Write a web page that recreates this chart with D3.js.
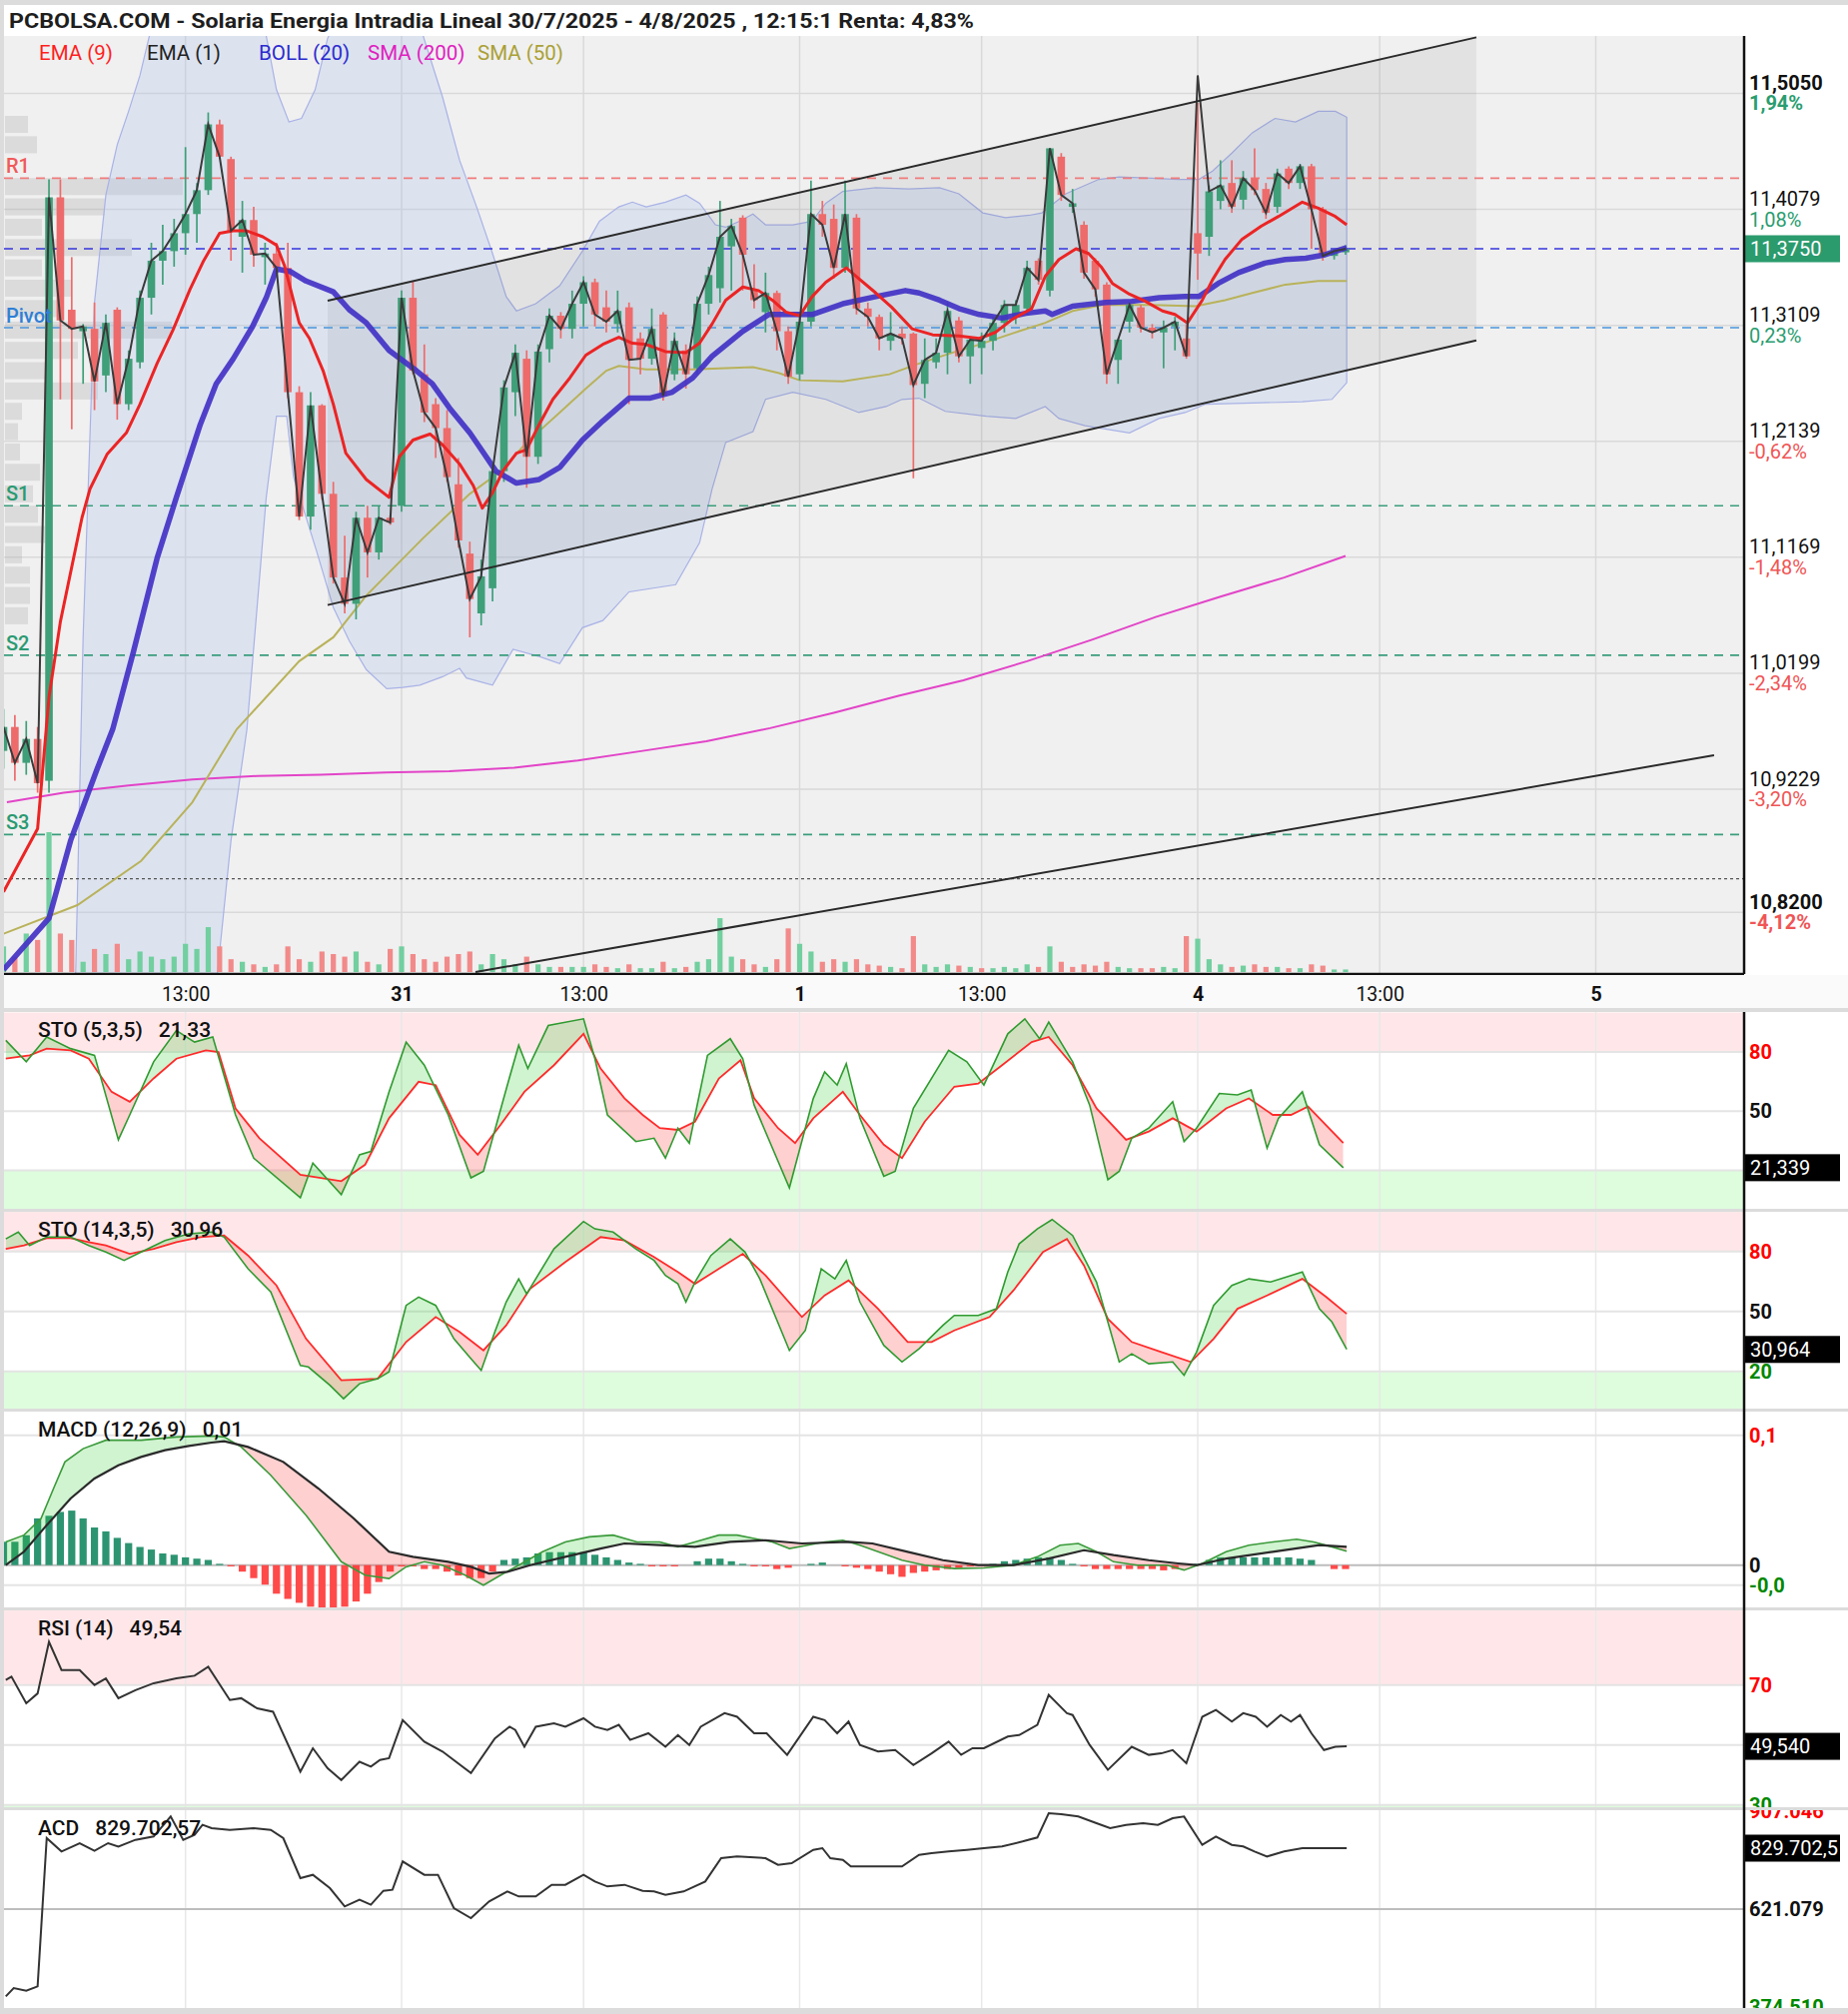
<!DOCTYPE html>
<html><head><meta charset="utf-8">
<script src="https://cdn.jsdelivr.net/npm/d3@7/dist/d3.min.js"></script>
<style>
html,body{margin:0;padding:0;background:#fff;}
svg{display:block;}
text{font-family:Roboto,"Noto Sans",sans-serif;}
</style></head><body>
<svg id="chart" width="1850" height="2016"></svg>
<script>
// ---------------- DATA ----------------
const TITLE = "PCBOLSA.COM - Solaria Energia Intradia Lineal 30/7/2025 - 4/8/2025 , 12:15:1 Renta: 4,83%";
const LEGEND_LABELS = ["EMA (9)","EMA (1)","BOLL (20)","SMA (200)","SMA (50)"];
const LEGEND_COLORS = ["#ff1e1e","#222222","#2b2bd0","#e020c0","#aaa035"];

const XTICK_SLOTS = [16,35,51,70,86,105,121,140];
const XTICK_LABELS = ["13:00","31","13:00","1","13:00","4","13:00","5"];
const XTICK_BOLD = [false,true,false,true,false,true,false,true];

const PRICE_TICKS = [11.5050,11.4079,11.3109,11.2139,11.1169,11.0199,10.9229,10.8200];
const PRICE_TICK_LABELS = ["11,5050","11,4079","11,3109","11,2139","11,1169","11,0199","10,9229","10,8200"];
const PRICE_TICK_PCT = ["1,94%","1,08%","0,23%","-0,62%","-1,48%","-2,34%","-3,20%","-4,12%"];
const PRICE_TICK_BOLD = [true,false,false,false,false,false,false,true];
const LAST_PRICE = 11.375, LAST_PRICE_LABEL = "11,3750";

const OPEN = [10.955,10.975,10.945,10.965,10.93,11.418,11.324,11.306,11.308,11.269,
11.324,11.245,11.280,11.334,11.365,11.373,11.388,11.404,11.424,11.479,
11.450,11.385,11.399,11.368,11.371,11.359,11.255,11.151,11.244,11.170,
11.100,11.078,11.150,11.121,11.150,11.160,11.334,11.270,11.245,11.225,
11.178,11.120,11.070,11.091,11.189,11.255,11.283,11.201,11.291,11.319,
11.308,11.329,11.347,11.326,11.312,11.326,11.300,11.283,11.320,11.270,
11.290,11.275,11.329,11.342,11.377,11.401,11.340,11.322,11.338,11.306,
11.270,11.314,11.404,11.400,11.359,11.401,11.325,11.318,11.298,11.304,
11.304,11.262,11.280,11.288,11.315,11.285,11.292,11.298,11.313,11.318,
11.325,11.365,11.340,11.452,11.410,11.395,11.365,11.345,11.282,11.314,
11.326,11.309,11.305,11.310,11.300,11.388,11.385,11.415,11.430,11.416,
11.434,11.425,11.410,11.442,11.430,11.444,11.408,11.369,11.372];
const HIGH = [10.99,10.985,10.98,10.975,11.433,11.433,11.368,11.312,11.330,11.320,
11.326,11.290,11.340,11.380,11.395,11.400,11.460,11.430,11.489,11.483,
11.452,11.415,11.410,11.380,11.380,11.380,11.260,11.255,11.245,11.180,
11.135,11.155,11.160,11.160,11.152,11.340,11.348,11.295,11.250,11.240,
11.200,11.130,11.115,11.195,11.265,11.295,11.290,11.295,11.325,11.322,
11.340,11.352,11.350,11.340,11.340,11.330,11.305,11.325,11.322,11.305,
11.295,11.335,11.360,11.415,11.400,11.403,11.362,11.355,11.340,11.310,
11.320,11.432,11.415,11.412,11.432,11.404,11.330,11.320,11.322,11.310,
11.305,11.300,11.300,11.330,11.318,11.300,11.305,11.318,11.332,11.332,
11.365,11.367,11.459,11.455,11.425,11.398,11.367,11.347,11.300,11.330,
11.328,11.312,11.315,11.318,11.312,11.497,11.428,11.449,11.449,11.440,
11.459,11.430,11.442,11.444,11.446,11.446,11.410,11.375,11.378];
const LOW = [10.94,10.93,10.935,10.92,10.92,11.249,11.224,11.262,11.240,11.255,
11.232,11.240,11.275,11.320,11.345,11.360,11.370,11.380,11.420,11.450,
11.365,11.355,11.360,11.345,11.355,11.250,11.148,11.140,11.165,11.095,
11.070,11.065,11.100,11.115,11.144,11.155,11.270,11.230,11.200,11.180,
11.125,11.050,11.060,11.080,11.180,11.235,11.175,11.195,11.280,11.300,
11.300,11.310,11.310,11.305,11.305,11.245,11.270,11.278,11.248,11.265,
11.258,11.270,11.320,11.330,11.340,11.340,11.325,11.305,11.290,11.262,
11.265,11.310,11.385,11.350,11.355,11.320,11.310,11.290,11.290,11.295,
11.183,11.250,11.275,11.270,11.280,11.262,11.270,11.290,11.305,11.312,
11.320,11.345,11.335,11.415,11.405,11.350,11.335,11.262,11.262,11.305,
11.305,11.300,11.275,11.290,11.283,11.349,11.369,11.408,11.405,11.408,
11.420,11.400,11.405,11.425,11.425,11.375,11.365,11.366,11.370];
const CLOSE = [10.975,10.945,10.965,10.928,11.418,11.315,11.308,11.310,11.264,11.313,
11.245,11.283,11.334,11.365,11.373,11.388,11.404,11.424,11.479,11.452,
11.390,11.399,11.370,11.371,11.359,11.255,11.151,11.244,11.170,11.100,
11.078,11.150,11.121,11.150,11.146,11.334,11.273,11.238,11.225,11.184,
11.131,11.082,11.101,11.189,11.259,11.288,11.201,11.289,11.319,11.308,
11.329,11.347,11.320,11.314,11.323,11.282,11.283,11.308,11.252,11.298,
11.270,11.329,11.353,11.385,11.394,11.370,11.332,11.338,11.306,11.268,
11.314,11.404,11.395,11.359,11.404,11.325,11.318,11.300,11.304,11.300,
11.261,11.282,11.288,11.323,11.285,11.299,11.298,11.313,11.328,11.328,
11.359,11.349,11.459,11.420,11.413,11.355,11.341,11.270,11.299,11.328,
11.309,11.305,11.309,11.314,11.285,11.371,11.423,11.428,11.410,11.434,
11.424,11.405,11.438,11.430,11.444,11.408,11.369,11.373,11.375];
const VOLUME = [20,12,30,25,109,30,25,8,18,14,
22,10,16,12,10,12,22,18,35,20,
10,8,6,4,6,20,10,8,16,14,
12,16,8,6,18,20,14,10,8,12,
14,16,6,14,10,6,12,6,4,4,
4,4,6,4,3,6,3,3,8,3,
4,8,10,42,12,10,6,4,10,34,
22,16,8,10,8,10,6,5,4,3,
28,6,4,6,5,4,3,3,4,3,
6,4,20,8,4,6,5,8,4,3,
3,3,4,3,28,26,10,6,4,5,
6,4,4,3,3,6,5,2,2];
const EMA1_OVERRIDE_SLOT = [105];
const EMA1_OVERRIDE_VALUE = [11.52];

const EMA9 = [[0,10.837],[3,10.89],[4,11.0],[5,11.063],[6.9,11.150],[7.6,11.174],[9.1,11.203],[10.8,11.221],[12,11.245],[13.5,11.279],[14.9,11.307],[16.4,11.341],[17.6,11.365],[19,11.388],[20.2,11.390],[21.4,11.390],[22.8,11.385],[24,11.378],[24.7,11.361],[26,11.313],[26.9,11.300],[28.1,11.273],[29,11.245],[30.1,11.204],[31.9,11.182],[33.9,11.167],[34.8,11.201],[36,11.215],[37.5,11.220],[38.6,11.211],[40.1,11.195],[41.3,11.177],[42.1,11.158],[43,11.171],[43.9,11.189],[45.1,11.204],[46,11.207],[47.1,11.228],[48.3,11.249],[49.8,11.267],[51.2,11.286],[52.7,11.295],[54.1,11.301],[55.3,11.296],[56.5,11.295],[58.2,11.289],[60,11.288],[61.2,11.296],[62.3,11.312],[63.5,11.332],[65,11.343],[66.4,11.340],[67.6,11.332],[68.8,11.322],[70,11.319],[71.1,11.335],[72.3,11.347],[74.1,11.359],[75.2,11.350],[76.7,11.338],[78.1,11.326],[79.9,11.308],[81.7,11.303],[84,11.302],[85.8,11.300],[87.2,11.305],[88.7,11.316],[90.4,11.325],[91.6,11.352],[92.8,11.366],[94.3,11.375],[95.4,11.371],[96.5,11.360],[97.5,11.346],[99,11.337],[100.4,11.331],[101.9,11.323],[103,11.320],[104.1,11.313],[105.4,11.332],[106.3,11.349],[107.4,11.366],[108.9,11.383],[110.6,11.394],[112.1,11.402],[114.2,11.414],[115.6,11.409],[117.1,11.402],[118.1,11.395]];
const BOLL_MID = [[0,10.772],[4,10.815],[5.9,10.880],[8.2,10.939],[9.6,10.973],[11.4,11.037],[13.5,11.116],[15.2,11.167],[17.3,11.228],[18.7,11.262],[20.2,11.283],[21.9,11.310],[23.1,11.334],[24,11.358],[25.2,11.356],[26.6,11.348],[29,11.339],[30.4,11.324],[31.9,11.313],[33.9,11.290],[36.3,11.273],[37.7,11.262],[39.2,11.242],[41,11.221],[41.8,11.210],[43.3,11.189],[45.1,11.179],[47.1,11.182],[48.9,11.192],[50.9,11.215],[52.7,11.231],[55,11.250],[56.8,11.250],[58.8,11.255],[60.6,11.267],[62.3,11.285],[65,11.306],[67.3,11.320],[69.4,11.320],[71.1,11.320],[73.8,11.329],[76.7,11.335],[79.3,11.340],[80.5,11.338],[82.3,11.332],[84,11.325],[85.8,11.320],[87.8,11.317],[89.9,11.321],[91.6,11.323],[92.2,11.320],[94,11.327],[96.9,11.330],[99.2,11.331],[101.6,11.334],[103.9,11.335],[105.1,11.335],[106.8,11.346],[108.6,11.355],[110.9,11.363],[112.7,11.366],[114.5,11.367],[116.2,11.370],[118.1,11.376]];
const BOLL_UP = [[0,10.40],[5,10.45],[6,10.62],[7,11.05],[8,11.33],[9,11.42],[10,11.462],[11,11.49],[12,11.52],[13,11.56],[16,11.62],[20,11.63],[22,11.59],[23.1,11.553],[24,11.508],[25.1,11.481],[26.2,11.484],[27.4,11.508],[28.5,11.551],[31,11.60],[34,11.61],[36.9,11.553],[38.6,11.502],[40.1,11.449],[41.6,11.410],[43,11.371],[44.2,11.335],[45.1,11.323],[46.8,11.329],[48.9,11.344],[50.9,11.373],[52.4,11.398],[54.1,11.410],[55.3,11.414],[56.5,11.410],[58.2,11.414],[60,11.420],[61.2,11.413],[62.6,11.395],[63.5,11.393],[64.7,11.398],[65.9,11.404],[67,11.395],[69.4,11.395],[71.1,11.398],[72.3,11.413],[73.8,11.423],[76.7,11.426],[79.6,11.425],[82.3,11.426],[84,11.421],[86.1,11.405],[88.1,11.401],[90.2,11.403],[91.3,11.405],[93.4,11.421],[96.3,11.433],[98.1,11.435],[101,11.434],[103.3,11.433],[105.1,11.433],[106.3,11.440],[108,11.455],[109.8,11.472],[111.8,11.484],[113.6,11.481],[115.6,11.490],[117.1,11.490],[118.1,11.485]];
const BOLL_LOW = [[0,10.40],[17,10.55],[18.5,10.74],[20,10.88],[21.4,10.973],[23.1,11.167],[24,11.235],[24.9,11.235],[25.5,11.184],[27.5,11.123],[29,11.075],[30.4,11.047],[31.9,11.023],[33.7,11.007],[35.1,11.008],[36.6,11.010],[38.6,11.017],[40.1,11.024],[40.7,11.016],[43,11.010],[44.8,11.040],[47.1,11.034],[48.9,11.028],[50.9,11.058],[52.7,11.064],[55,11.088],[59.1,11.094],[61.2,11.129],[62.3,11.174],[63.5,11.213],[65.9,11.222],[67,11.249],[69.4,11.255],[72.3,11.249],[75.2,11.238],[77.6,11.243],[79,11.249],[80.5,11.250],[82.8,11.239],[86.4,11.235],[89,11.233],[91.6,11.243],[92.8,11.233],[95.1,11.227],[99,11.221],[101.6,11.233],[103.9,11.238],[105.7,11.245],[109.8,11.246],[114.2,11.247],[116.8,11.249],[118.1,11.263]];
const SMA50 = [[0,10.802],[6.5,10.826],[12.1,10.863],[16.6,10.912],[20.5,10.973],[26,11.030],[29,11.050],[31.9,11.085],[36.9,11.133],[41,11.170],[43.6,11.188],[46,11.213],[48.9,11.238],[51.2,11.258],[53,11.273],[54.1,11.277],[56.5,11.274],[60.6,11.274],[65.9,11.276],[68.2,11.271],[70,11.265],[73.8,11.264],[77.9,11.270],[80.5,11.279],[83.4,11.288],[85.2,11.293],[89.3,11.306],[91.6,11.313],[94,11.323],[96.6,11.328],[101,11.328],[104.8,11.327],[107.4,11.332],[109.8,11.338],[112.7,11.345],[115.6,11.348],[118.1,11.348]];
const SMA200 = [[0.3,10.912],[5.3,10.920],[11,10.926],[16.6,10.931],[22.3,10.934],[27.9,10.935],[33.6,10.937],[39.2,10.938],[44.9,10.941],[50.5,10.947],[56.2,10.955],[61.8,10.963],[67.4,10.974],[73.1,10.987],[78.7,11.001],[84.4,11.014],[90,11.030],[95.7,11.048],[101.3,11.067],[107,11.084],[112.6,11.100],[118,11.118]];

const CHANNEL_UP = [[28.5,11.3316],[129.5,11.5518]];
const CHANNEL_LOW = [[28.5,11.077],[129.5,11.2983]];
const LONG_TREND = [[41.5,10.770],[150.4,10.9514]];

const LEVEL_NAMES = ["R1","Pivot","S1","S2","S3"];
const LEVEL_VALUES = [11.434,11.309,11.160,11.035,10.885];
const LEVEL_COLORS = ["#f07b7b","#4a95dc","#3a9d7c","#3a9d7c","#3a9d7c"];
const LEVEL_TEXT_COLORS = ["#f05a5a","#2f7fd6","#2a9a72","#2a9a72","#2a9a72"];
const DOTTED_LEVEL = 10.848;

const PROFILE_PRICE = [11.479,11.462,11.427,11.410,11.393,11.376,11.359,11.342,11.325,11.307,11.290,11.273,11.256,11.239,11.222,11.205,11.188,11.170,11.153,11.136,11.119,11.102,11.085,11.068];
const PROFILE_VOL = [23,32,178,100,37,127,37,67,53,167,73,43,93,17,13,15,35,28,33,40,17,25,25,23];

const STO5_K = [[0.2,85.9],[2,75.0],[3.8,87.6],[5.9,81.7],[8,78.3],[10.1,35.5],[11.1,48.1],[13.2,75.0],[15.2,90.9],[16.8,85.0],[18.4,87.6],[20.4,48.1],[22,26.2],[26.1,6.1],[27.2,23.7],[29.7,7.7],[31.3,27.9],[32.3,29.6],[33.9,59.8],[35.4,85.0],[37,73.3],[39.1,48.1],[41.1,16.2],[42.2,19.5],[44.3,63.2],[45.3,83.4],[46.1,71.6],[47.9,93.4],[51,96.8],[52,76.6],[53.1,48.1],[55.6,34.6],[57.2,36.3],[58.2,26.2],[59.3,41.4],[60.3,33.8],[61.9,78.3],[63.9,86.7],[65,76.6],[66,53.1],[69.1,11.1],[71.2,56.4],[72.2,69.9],[73.3,63.2],[74.1,74.1],[75.3,46.4],[77.4,17.0],[78.4,19.5],[80,51.5],[83.1,80.8],[84.7,75.0],[86.2,63.2],[88.3,89.2],[89.8,96.8],[91.1,86.7],[91.9,95.1],[94,75.0],[95.5,53.1],[97.1,15.3],[98.1,19.5],[99.2,36.3],[100.7,41.4],[102.8,54.8],[103.8,34.6],[104.9,41.4],[106.9,59.0],[108.5,58.2],[109.7,60.7],[111.1,31.3],[112.1,46.4],[114.2,59.8],[115.7,33.0],[117.8,21.3]];
const STO5_D = [[0.2,76.6],[2.3,78.3],[3.8,81.7],[5.9,80.8],[7.5,76.6],[9.5,59.8],[11.1,54.8],[13.2,66.6],[15.2,76.6],[17.8,80.8],[18.9,80.0],[20.4,51.4],[22.5,36.3],[26.1,17.8],[29.7,14.5],[31.8,22.9],[33.9,46.4],[36.5,64.9],[38,63.2],[40.1,38.0],[41.7,27.9],[43.7,43.0],[45.8,59.8],[48.4,73.3],[51,89.2],[52.5,71.6],[54.6,56.5],[56.2,48.1],[57.7,41.4],[59.3,40.5],[60.8,44.7],[62.9,66.6],[64.8,75.8],[66,56.5],[68.1,41.4],[69.6,33.8],[71.2,46.4],[73.8,59.8],[75.3,48.1],[77.4,33.0],[79,26.2],[81,44.7],[83.6,62.4],[85.7,64.0],[87.8,73.3],[90.4,85.0],[91.9,87.6],[94,73.3],[96.1,51.4],[98.7,35.5],[100.7,39.7],[102.8,46.4],[104.9,39.7],[107.5,51.4],[109.5,56.5],[111.6,48.1],[113.2,48.1],[114.7,52.3],[117.8,33.8]];
const STO14_K = [[0.2,86.3],[1.3,89.7],[2.3,83.0],[3.8,87.2],[5.9,87.2],[7.5,83.0],[9,79.7],[10.6,75.5],[12.1,79.7],[14.2,85.5],[16.3,88.8],[18.3,89.7],[19.4,87.2],[21.5,71.3],[23.5,59.7],[26.1,23.0],[26.8,22.2],[28.7,13.0],[29.9,6.3],[31.3,13.8],[32.9,16.3],[33.9,19.7],[35.4,53.0],[36.5,57.2],[38,53.0],[39.6,36.3],[41.1,26.3],[42,20.5],[43.2,39.7],[44.2,54.7],[45.3,66.3],[46,58.8],[48.4,81.3],[51,95.0],[52,91.3],[53.6,89.7],[55.6,81.3],[57.2,75.5],[58.2,68.0],[59.3,63.8],[60,54.7],[60.8,64.7],[62.2,78.0],[63.9,86.3],[65.2,79.7],[66.5,66.3],[69.1,30.5],[70.5,40.5],[71.9,71.3],[73.1,66.3],[74.1,75.5],[75.3,54.7],[77.4,33.0],[79,24.7],[80.5,31.3],[82.6,43.0],[83.6,48.0],[85.7,48.0],[87.3,51.3],[88.3,69.7],[89.3,83.8],[90.9,91.3],[92.2,96.0],[94,88.0],[96.1,64.7],[98.1,24.7],[99.2,28.8],[100.7,23.8],[102.8,24.7],[103.8,18.0],[104.9,29.7],[106.4,53.0],[108,63.0],[109.5,66.3],[111.4,64.7],[112.8,67.2],[114.2,69.7],[115.7,51.3],[116.8,44.7],[118.1,31.0]];
const STO14_D = [[0.2,81.3],[1.8,83.0],[3.8,86.7],[5.9,86.7],[7.5,84.7],[9,83.0],[11.1,78.8],[13.2,81.3],[15.2,84.7],[17.3,87.2],[19.4,88.0],[21.5,78.0],[24,63.0],[26.6,36.3],[29.7,15.5],[32.9,16.3],[35.4,34.7],[38,47.2],[40.1,39.7],[42.2,30.5],[44.2,43.0],[46.3,61.3],[49.4,74.7],[52.5,87.2],[54.6,85.5],[57.2,77.2],[59.3,69.7],[60.8,63.8],[62.9,71.3],[65,78.8],[67,68.0],[70.2,47.2],[72.2,58.0],[74.3,65.5],[76.9,51.3],[79.5,34.7],[81.6,34.7],[83.6,40.5],[86.7,47.2],[88.8,60.5],[91.4,79.7],[93.5,86.3],[95,73.0],[97.1,46.3],[99.2,34.7],[101.8,29.7],[104.4,24.7],[106.4,36.3],[108.5,51.3],[111.1,58.0],[114.2,66.3],[116.3,57.2],[118.1,48.8]];

const MACD_LINE = [[0.2,0.0179],[1.8,0.0231],[3.3,0.0359],[4.4,0.0590],[5.4,0.0795],[7,0.0897],[9,0.0962],[12.1,0.0962],[15.2,0.0987],[18.3,0.0995],[19.4,0.0987],[20.9,0.0910],[23.5,0.0692],[26.6,0.0385],[29.7,0.0026],[31.8,-0.0077],[33.9,-0.0103],[35.4,-0.0013],[37,0.0026],[38.6,0.0],[40.6,-0.0077],[42.2,-0.0154],[43.7,-0.0077],[45.3,0.0],[47.4,0.0103],[49.4,0.0179],[51.5,0.0218],[53.6,0.0231],[55.7,0.0179],[57.7,0.0179],[59.3,0.0141],[60.8,0.0179],[62.9,0.0231],[64.5,0.0231],[66,0.0205],[67.6,0.0179],[69.1,0.0128],[70.7,0.0154],[72.2,0.0179],[73.8,0.0192],[75.3,0.0154],[76.9,0.0103],[79,0.0038],[81,0.0],[83.6,-0.0026],[86.2,-0.0021],[88.8,0.0],[90.9,0.0064],[92.9,0.0154],[94.5,0.0167],[96.1,0.0103],[97.6,0.0026],[99.7,0.0],[102.3,0.0],[103.8,-0.0038],[105.4,0.0013],[107.5,0.0103],[109.5,0.0154],[111.6,0.0179],[113.7,0.0200],[115.2,0.0179],[116.8,0.0141],[118.1,0.0108]];
const MACD_SIGNAL = [[0.2,0.0],[1.8,0.0103],[3.8,0.0308],[5.9,0.0513],[8,0.0667],[10.1,0.0769],[12.1,0.0833],[14.2,0.0885],[16.3,0.0918],[18.3,0.0944],[19.4,0.0954],[21.5,0.0910],[24.6,0.0795],[27.7,0.0590],[30.8,0.0359],[33.9,0.0103],[36,0.0064],[39.1,0.0026],[41.1,-0.0013],[42.7,-0.0064],[44.3,-0.0051],[46.3,0.0],[49.4,0.0064],[52.5,0.0128],[54.6,0.0167],[57.7,0.0154],[60.8,0.0141],[63.9,0.0179],[67,0.0192],[70.2,0.0167],[74.3,0.0179],[76.4,0.0167],[79.5,0.0103],[82.6,0.0038],[85.7,0.0],[88.8,0.0],[91.9,0.0051],[95,0.0115],[97.6,0.0077],[100.7,0.0038],[103.3,0.0013],[104.9,0.0],[107.5,0.0051],[111.6,0.0103],[115.7,0.0154],[118.1,0.0141]];
const MACD_HIST = [0.018,0.018,0.023,0.036,0.038,0.041,0.042,0.036,0.029,0.026,
0.021,0.017,0.014,0.012,0.009,0.008,0.006,0.005,0.004,0.001,
-0.001,-0.005,-0.010,-0.015,-0.022,-0.026,-0.029,-0.032,-0.033,-0.033,
-0.032,-0.028,-0.022,-0.013,-0.005,-0.001,-0.001,-0.003,-0.003,-0.005,
-0.008,-0.010,-0.010,-0.005,0.004,0.005,0.006,0.009,0.010,0.010,
0.010,0.010,0.008,0.006,0.004,0.002,0.001,-0.001,-0.001,-0.001,
0.000,0.003,0.005,0.005,0.003,0.001,-0.001,-0.001,-0.003,-0.002,
0.000,0.001,0.002,0.000,-0.001,-0.002,-0.003,-0.005,-0.007,-0.009,
-0.006,-0.005,-0.004,-0.003,-0.002,-0.001,0.000,0.001,0.003,0.004,
0.005,0.006,0.006,0.004,0.001,-0.001,-0.003,-0.003,-0.003,-0.003,
-0.003,-0.003,-0.004,-0.003,0.000,0.001,0.004,0.006,0.006,0.006,
0.006,0.006,0.006,0.006,0.005,0.004,0.000,-0.003,-0.003];

const RSI14 = [[0.2,71.7],[0.7,72.8],[2,63.9],[3,67.2],[4,84.4],[5.1,75.0],[6.7,75.0],[8,70.0],[9,72.2],[10.1,65.6],[11.6,68.3],[13.2,70.6],[15.2,72.2],[16.8,73.1],[18,76.1],[19.9,65.0],[20.9,65.6],[22.3,62.2],[23.7,61.1],[26.1,41.1],[27.2,48.9],[28.5,42.2],[29.7,38.3],[31.3,44.4],[32.3,42.8],[33.1,45.0],[33.9,45.6],[35.1,58.3],[37,51.1],[38.6,47.8],[41.1,40.6],[43.2,52.2],[44.5,56.1],[45,55.0],[45.8,49.4],[46.8,56.1],[48.4,57.2],[49.4,56.1],[51,58.9],[52,56.1],[53.1,55.0],[54.1,56.7],[55.1,51.7],[56.7,53.9],[58.2,49.4],[59.3,53.3],[60.3,50.0],[61.3,56.1],[63.4,60.6],[64.5,59.4],[66,53.9],[67.1,53.9],[68.9,46.7],[71.2,59.4],[72.2,58.3],[73.3,53.9],[74.3,57.8],[75.3,50.0],[76.9,47.8],[78.4,48.3],[80,43.3],[81.6,47.2],[83.1,51.1],[84.2,46.7],[85.2,48.9],[86.2,48.9],[88.3,52.8],[89.3,53.3],[90.9,56.7],[91.9,66.7],[93.5,60.6],[94,60.0],[95.5,50.0],[97.1,41.7],[99.2,49.4],[100.7,46.7],[101.8,47.2],[102.8,48.3],[104,43.9],[105.4,59.4],[106.6,61.7],[108,57.8],[109,60.6],[110.1,59.4],[111.1,56.1],[112.3,60.0],[113.2,57.8],[114,60.0],[115,53.9],[116.1,48.3],[117.1,49.4],[118.1,49.54]];

const ACD = [[0.2,322400],[0.9,350900],[2,341800],[3,356600],[3.8,863900],[5.1,818300],[6.7,846800],[8,820600],[9.2,846800],[10.1,835400],[11.6,858200],[13.2,869600],[14.7,938000],[15.8,858200],[16.8,875300],[17.5,909500],[18.3,898100],[19.9,892400],[22,898100],[23.5,892400],[24.6,863900],[26.1,727100],[27.2,738500],[28.7,692900],[30,630200],[31.3,653000],[32.3,635900],[33.4,683800],[34.2,687200],[35.1,784100],[37,738500],[38.2,738500],[39.6,624500],[41.1,590300],[42.7,647300],[44.3,681500],[45.3,664400],[46.8,664400],[48.2,704300],[49.4,704300],[51,738500],[52,715700],[53.1,698600],[54.6,704300],[56.2,683800],[57.2,681500],[58.2,670100],[59.8,681500],[61.7,715700],[63.1,795500],[64.5,801200],[67,795500],[68.1,772700],[69.3,778400],[71.2,824000],[72,829700],[72.7,795500],[73.8,789800],[74.5,767000],[76.4,767000],[79,767000],[80.5,806900],[81.6,812600],[83.1,818300],[84.7,824000],[86.2,829700],[87.8,835400],[89.6,852500],[90.9,866200],[91.9,949400],[93,946000],[94.5,938000],[96.1,915200],[97.3,898100],[98.7,909500],[100.2,915200],[101.5,909500],[102.8,932300],[103.8,938000],[105.4,841100],[106.6,869600],[108,841100],[109,835400],[110,818300],[111.1,801200],[112.6,818300],[114.2,829700],[118.1,829702.5]];

const PANEL_LABELS = ["STO (5,3,5)","STO (14,3,5)","MACD (12,26,9)","RSI (14)","ACD"];
const PANEL_VALUES = ["21,33","30,96","0,01","49,54","829.702,57"];
const STO_TICKS = [80,50,20];
const STO5_TICK_LABELS = ["80","50",""];
const STO14_TICK_LABELS = ["80","50","20"];
const MACD_TICKS = [0.1,0,-0.0154];
const MACD_TICK_LABELS = ["0,1","0","-0,0"];
const RSI_TICKS = [70,50,30];
const RSI_TICK_LABELS = ["70","","30"];
const ACD_TICKS = [621079];
const ACD_TICK_LABELS = ["621.079"];
const ACD_MAX_LABEL = "907.046", ACD_MIN_LABEL = "374.510";
const BOX_LABELS = ["21,339","30,964","49,540","829.702,5"];

// ---------------- LAYOUT / SCALES ----------------
const svg = d3.select("#chart");
const defs = svg.append("defs");
const PL = 4, PR = 1746, AX = 1751;
const MAIN = {top:36, bottom:975};
const P_STO5 = {top:1013, bottom:1210}, P_STO14 = {top:1213, bottom:1410},
      P_MACD = {top:1413, bottom:1609}, P_RSI = {top:1612, bottom:1809}, P_ACD = {top:1812, bottom:2010};

const x = d3.scaleLinear().domain([0,35]).range([3.5,402]);
const yP = d3.scaleLinear().domain([10.82,11.505]).range([913.2,93.4]);
const yV = d3.scaleLinear().domain([0,109]).range([973,833]);
const profW = d3.scaleLinear().domain([0,178]).range([0,178]);
const yS5 = d3.scaleLinear().domain([0,100]).range([1211,1013.5]);
const yS14 = d3.scaleLinear().domain([0,100]).range([1412.7,1212.7]);
const yM = d3.scaleLinear().domain([0,0.1]).range([1566.7,1436.7]);
const yR = d3.scaleLinear().domain([30,70]).range([1806.7,1686.7]);
const yA = d3.scaleLinear().domain([621079,829702.5]).range([1911,1850]);

const GREEN = "#3f9f78", RED = "#ee6b6b";
const VGREEN = "#72cf9f", VRED = "#f28a8a";
const AXFS = 20;

function clip(id, x0, y0, x1, y1){
  defs.append("clipPath").attr("id",id).append("rect").attr("x",x0).attr("y",y0).attr("width",x1-x0).attr("height",y1-y0);
  return `url(#${id})`;
}

// ---------------- FRAME ----------------
svg.append("rect").attr("width",1850).attr("height",2016).attr("fill","#ffffff");
svg.append("rect").attr("x",0).attr("y",0).attr("width",1850).attr("height",5).attr("fill","#dcdcdc");
svg.append("rect").attr("x",0).attr("y",0).attr("width",4).attr("height",2016).attr("fill","#dcdcdc");
svg.append("text").attr("x",9).attr("y",28).attr("font-family","'Open Sans',Roboto,sans-serif")
  .attr("font-size",21).attr("font-weight",700).attr("fill","#1e1e1e")
  .attr("textLength",966).attr("lengthAdjust","spacingAndGlyphs").text(TITLE);

// ---------------- MAIN PANEL ----------------
const gM = svg.append("g").attr("clip-path", clip("cMain", PL, MAIN.top, PR, MAIN.bottom));
gM.append("rect").attr("x",PL).attr("y",MAIN.top).attr("width",PR-PL).attr("height",MAIN.bottom-MAIN.top).attr("fill","#f0f0f0");

gM.selectAll(null).data(PRICE_TICKS).join("line")
  .attr("x1",PL).attr("x2",PR).attr("y1",d=>yP(d)).attr("y2",d=>yP(d))
  .attr("stroke","#d9d9d9").attr("stroke-width",1.5);
gM.selectAll(null).data(XTICK_SLOTS).join("line")
  .attr("x1",d=>x(d)).attr("x2",d=>x(d)).attr("y1",MAIN.top).attr("y2",MAIN.bottom)
  .attr("stroke","#d9d9d9").attr("stroke-width",1.5);

gM.selectAll(null).data(PROFILE_PRICE).join("rect")
  .attr("x",5).attr("y",d=>yP(d)-8.5).attr("height",17)
  .attr("width",(d,i)=>profW(PROFILE_VOL[i]))
  .attr("fill","rgba(165,165,165,0.28)");

const lineP = d3.line().x(d=>x(d[0])).y(d=>yP(d[1]));
gM.append("path").attr("d", lineP(BOLL_UP.concat(BOLL_LOW.slice().reverse()))+"Z")
  .attr("fill","rgba(178,200,236,0.32)").attr("stroke","#a9b2e6").attr("stroke-width",1.2);

gM.append("path").attr("d", lineP(CHANNEL_UP.concat(CHANNEL_LOW.slice().reverse()))+"Z")
  .attr("fill","rgba(0,0,0,0.055)");

const idx = d3.range(CLOSE.length);
gM.selectAll(null).data(idx).join("rect")
  .attr("x",i=>x(i)-2.6).attr("width",5.2)
  .attr("y",i=>yV(VOLUME[i])).attr("height",i=>yV(0)-yV(VOLUME[i]))
  .attr("fill",i=> (i===0 ? CLOSE[i]>=OPEN[i] : CLOSE[i]>=CLOSE[i-1]) ? VGREEN : VRED);

gM.selectAll(null).data(LEVEL_VALUES).join("line")
  .attr("x1",PL).attr("x2",PR).attr("y1",d=>yP(d)).attr("y2",d=>yP(d))
  .attr("stroke",(d,i)=>LEVEL_COLORS[i]).attr("stroke-width",1.6).attr("stroke-dasharray","9,7");
gM.append("line").attr("x1",PL).attr("x2",PR).attr("y1",yP(LAST_PRICE)).attr("y2",yP(LAST_PRICE))
  .attr("stroke","#3434dd").attr("stroke-width",1.6).attr("stroke-dasharray","9,7");
gM.append("line").attr("x1",PL).attr("x2",PR).attr("y1",yP(DOTTED_LEVEL)).attr("y2",yP(DOTTED_LEVEL))
  .attr("stroke","#555").attr("stroke-width",1.3).attr("stroke-dasharray","3,3");

gM.append("path").attr("d",lineP(SMA200)).attr("fill","none").attr("stroke","#e244c8").attr("stroke-width",2);
gM.append("path").attr("d",lineP(SMA50)).attr("fill","none").attr("stroke","#b9b25a").attr("stroke-width",2);

gM.selectAll(null).data(idx).join("line")
  .attr("x1",i=>x(i)).attr("x2",i=>x(i)).attr("y1",i=>yP(HIGH[i])).attr("y2",i=>yP(LOW[i]))
  .attr("stroke",i=>CLOSE[i]>=OPEN[i]?GREEN:RED).attr("stroke-width",1.7);
gM.selectAll(null).data(idx).join("rect")
  .attr("x",i=>x(i)-3.8).attr("width",7.6)
  .attr("y",i=>yP(Math.max(OPEN[i],CLOSE[i])))
  .attr("height",i=>Math.max(1.6, Math.abs(yP(OPEN[i])-yP(CLOSE[i]))))
  .attr("fill",i=>CLOSE[i]>=OPEN[i]?GREEN:RED);

gM.append("path").attr("d",lineP(BOLL_MID)).attr("fill","none").attr("stroke","#4332c6").attr("stroke-width",5.5).attr("stroke-opacity",0.92).attr("stroke-linejoin","round");
gM.append("path").attr("d",lineP(EMA9)).attr("fill","none").attr("stroke","#ec2424").attr("stroke-width",3).attr("stroke-linejoin","round");
const ema1Pts = CLOSE.map((c,i)=>{ const k = EMA1_OVERRIDE_SLOT.indexOf(i); return [i, k>=0 ? EMA1_OVERRIDE_VALUE[k] : c]; });
gM.append("path").attr("d",lineP(ema1Pts)).attr("fill","none").attr("stroke","#3a3a3a").attr("stroke-width",2);

[CHANNEL_UP, CHANNEL_LOW, LONG_TREND].forEach(l=>{
  gM.append("path").attr("d",lineP(l)).attr("fill","none").attr("stroke","#2a2a2a").attr("stroke-width",2);
});

gM.selectAll(null).data(LEVEL_VALUES).join("text")
  .attr("x",6).attr("y",d=>yP(d)-5).attr("font-size",20).attr("font-weight",500)
  .attr("fill",(d,i)=>LEVEL_TEXT_COLORS[i]).text((d,i)=>LEVEL_NAMES[i]);

const LEG_X = [39,147,259,368,478];
svg.selectAll(null).data(LEGEND_LABELS).join("text")
  .attr("x",(d,i)=>LEG_X[i]).attr("y",60).attr("font-size",20.5).attr("fill",(d,i)=>LEGEND_COLORS[i]).text(d=>d);

svg.append("line").attr("x1",PL).attr("x2",PR).attr("y1",975).attr("y2",975).attr("stroke","#111").attr("stroke-width",2.5);

const gAx = svg.append("g").attr("clip-path", clip("cAxMain", PR, MAIN.top, 1850, MAIN.bottom));
gAx.selectAll(null).data(PRICE_TICKS).join("text")
  .attr("x",AX).attr("y",d=>yP(d)-3.5).attr("font-size",AXFS)
  .attr("font-weight",(d,i)=>PRICE_TICK_BOLD[i]?700:400).attr("fill","#111").text((d,i)=>PRICE_TICK_LABELS[i]);
gAx.selectAll(null).data(PRICE_TICKS).join("text")
  .attr("x",AX).attr("y",d=>yP(d)+17).attr("font-size",AXFS)
  .attr("font-weight",(d,i)=>PRICE_TICK_BOLD[i]?700:400)
  .attr("fill",(d,i)=>PRICE_TICK_PCT[i].startsWith("-")?"#f05555":"#2a9d6f").text((d,i)=>PRICE_TICK_PCT[i]);
gAx.append("rect").attr("x",1747).attr("y",yP(LAST_PRICE)-13.5).attr("width",95).attr("height",27).attr("fill","#2b9b6d");
gAx.append("text").attr("x",AX+1).attr("y",yP(LAST_PRICE)).attr("dy","0.35em").attr("font-size",AXFS).attr("fill","#fff").text(LAST_PRICE_LABEL);

svg.append("rect").attr("x",PL).attr("y",976).attr("width",1846).attr("height",33).attr("fill","#fafafa");
const xAxis = d3.axisBottom(x).tickValues(XTICK_SLOTS).tickFormat((d,i)=>XTICK_LABELS[i]).tickSize(0).tickPadding(12);
const gX = svg.append("g").attr("transform","translate(0,976)").call(xAxis);
gX.select(".domain").remove();
gX.selectAll("text").attr("font-size",19.5).attr("fill","#111").attr("font-family","Roboto,sans-serif")
  .attr("font-weight",(d,i)=>XTICK_BOLD[i]?700:400);

// ---------------- SUB PANELS ----------------
function fillBetween(g, A, B, yS, top, bot, colUp, colDn, id){
  const ar = (data, y0) => d3.area().x(d=>x(d[0])).y0(y0).y1(d=>yS(d[1]))(data);
  defs.append("clipPath").attr("id",id+"a").append("path").attr("d",ar(B,top));
  g.append("path").attr("d",ar(A,bot)).attr("fill",colUp).attr("clip-path",`url(#${id}a)`);
  defs.append("clipPath").attr("id",id+"b").append("path").attr("d",ar(B,bot));
  g.append("path").attr("d",ar(A,top)).attr("fill",colDn).attr("clip-path",`url(#${id}b)`);
}
function panel(P, id, yS, ticks, gridColors, bands){
  const g = svg.append("g").attr("clip-path", clip(id, PL, P.top, PR, P.bottom));
  g.append("rect").attr("x",PL).attr("y",P.top).attr("width",PR-PL).attr("height",P.bottom-P.top).attr("fill","#fff");
  bands.forEach(b=>{
    const y0 = Math.min(yS(b[0]),yS(b[1])), y1 = Math.max(yS(b[0]),yS(b[1]));
    g.append("rect").attr("x",PL).attr("y",y0).attr("width",PR-PL).attr("height",y1-y0).attr("fill",b[2]);
  });
  g.selectAll(null).data(XTICK_SLOTS).join("line")
    .attr("x1",d=>x(d)).attr("x2",d=>x(d)).attr("y1",P.top).attr("y2",P.bottom)
    .attr("stroke","#e8e8e8").attr("stroke-width",1.5);
  g.selectAll(null).data(ticks).join("line")
    .attr("x1",PL).attr("x2",PR).attr("y1",d=>yS(d)).attr("y2",d=>yS(d))
    .attr("stroke",(d,i)=>gridColors[i]).attr("stroke-width",2);
  return g;
}
function axisLabels(P, id, yS, ticks, labels, colors){
  const g = svg.append("g").attr("clip-path", clip(id, PR, P.top, 1850, P.bottom));
  g.selectAll(null).data(ticks).join("text")
    .attr("x",AX).attr("y",d=>yS(d)).attr("dy","0.35em").attr("font-size",AXFS).attr("font-weight",700)
    .attr("fill",(d,i)=>colors[i]).text((d,i)=>labels[i]);
  return g;
}
function valueBox(g, y, label){
  g.append("rect").attr("x",1747).attr("y",y-13.5).attr("width",95).attr("height",27).attr("fill","#000");
  g.append("text").attr("x",AX+1).attr("y",y).attr("dy","0.35em").attr("font-size",AXFS).attr("fill","#fff").text(label);
}
function panelTitle(P, i){
  const t = svg.append("text").attr("x",38).attr("y",P.top+25).attr("font-size",21).attr("font-weight",500).attr("fill","#111").text(PANEL_LABELS[i]);
  const w = t.node().getComputedTextLength();
  svg.append("text").attr("x",38+w+16).attr("y",P.top+25).attr("font-size",21).attr("font-weight",500).attr("fill","#111").text(PANEL_VALUES[i]);
}
const PINK = "#ffe7e9", LGREEN = "#ddfddc";
const FUP = "rgba(40,200,40,0.22)", FDN = "rgba(255,40,40,0.22)";
const lineOf = yS => d3.line().x(d=>x(d[0])).y(d=>yS(d[1]));

{
  const g = panel(P_STO5,"cS5",yS5,STO_TICKS,["#e4e4e4","#e4e4e4","#e4e4e4"],[[80,100,PINK],[0,20,LGREEN]]);
  fillBetween(g, STO5_K, STO5_D, yS5, P_STO5.top, P_STO5.bottom, FUP, FDN, "fS5");
  g.append("path").attr("d",lineOf(yS5)(STO5_D)).attr("fill","none").attr("stroke","#ff2a2a").attr("stroke-width",1.8);
  g.append("path").attr("d",lineOf(yS5)(STO5_K)).attr("fill","none").attr("stroke","#2f9a2f").attr("stroke-width",1.6);
  const ga = axisLabels(P_STO5,"aS5",yS5,STO_TICKS,STO5_TICK_LABELS,["#ff0000","#111","#008800"]);
  valueBox(ga, yS5(21.339), BOX_LABELS[0]);
  panelTitle(P_STO5,0);
}
{
  const g = panel(P_STO14,"cS14",yS14,STO_TICKS,["#e4e4e4","#e4e4e4","#e4e4e4"],[[80,100,PINK],[0,20,LGREEN]]);
  fillBetween(g, STO14_K, STO14_D, yS14, P_STO14.top, P_STO14.bottom, FUP, FDN, "fS14");
  g.append("path").attr("d",lineOf(yS14)(STO14_D)).attr("fill","none").attr("stroke","#ff2a2a").attr("stroke-width",1.8);
  g.append("path").attr("d",lineOf(yS14)(STO14_K)).attr("fill","none").attr("stroke","#2f9a2f").attr("stroke-width",1.6);
  const ga = axisLabels(P_STO14,"aS14",yS14,STO_TICKS,STO14_TICK_LABELS,["#ff0000","#111","#008800"]);
  valueBox(ga, yS14(30.964), BOX_LABELS[1]);
  panelTitle(P_STO14,1);
}
{
  const g = panel(P_MACD,"cM",yM,MACD_TICKS,["#e4e4e4","#bdbdbd","#e4e4e4"],[]);
  g.selectAll(null).data(MACD_HIST).join("rect")
    .attr("x",(d,i)=>x(i)-3.6).attr("width",7.2)
    .attr("y",d=>Math.min(yM(d),yM(0))).attr("height",d=>Math.abs(yM(d)-yM(0)))
    .attr("fill",d=>d>=0?"#2d9472":"#ff4a4a");
  fillBetween(g, MACD_LINE, MACD_SIGNAL, yM, P_MACD.top, P_MACD.bottom, FUP, FDN, "fM");
  g.append("path").attr("d",lineOf(yM)(MACD_LINE)).attr("fill","none").attr("stroke","#3a9a3a").attr("stroke-width",1.6);
  g.append("path").attr("d",lineOf(yM)(MACD_SIGNAL)).attr("fill","none").attr("stroke","#2a2a2a").attr("stroke-width",2.2);
  axisLabels(P_MACD,"aM",yM,MACD_TICKS,MACD_TICK_LABELS,["#ff0000","#111","#008800"]);
  panelTitle(P_MACD,2);
}
{
  const g = panel(P_RSI,"cR",yR,RSI_TICKS,["#e4e4e4","#e4e4e4","#e4e4e4"],[[70,100,PINK],[0,30,LGREEN]]);
  g.append("path").attr("d",lineOf(yR)(RSI14)).attr("fill","none").attr("stroke","#333").attr("stroke-width",2);
  const ga = axisLabels(P_RSI,"aR",yR,RSI_TICKS,RSI_TICK_LABELS,["#ff0000","#111","#008800"]);
  valueBox(ga, yR(49.54), BOX_LABELS[2]);
  panelTitle(P_RSI,3);
}
{
  const g = panel(P_ACD,"cA",yA,ACD_TICKS,["#bdbdbd"],[]);
  g.append("path").attr("d",lineOf(yA)(ACD)).attr("fill","none").attr("stroke","#333").attr("stroke-width",2);
  const ga = axisLabels(P_ACD,"aA",yA,ACD_TICKS,ACD_TICK_LABELS,["#111"]);
  ga.append("text").attr("x",AX).attr("y",P_ACD.top+1).attr("dy","0.35em").attr("font-size",AXFS).attr("font-weight",700).attr("fill","#ff0000").text(ACD_MAX_LABEL);
  ga.append("text").attr("x",AX).attr("y",P_ACD.bottom-1).attr("dy","0.35em").attr("font-size",AXFS).attr("font-weight",700).attr("fill","#008800").text(ACD_MIN_LABEL);
  valueBox(ga, yA(829702.5), BOX_LABELS[3]);
  panelTitle(P_ACD,4);
}

[[1009,4],[1210,3],[1410,3],[1609,3],[1809,3],[2010,6]].forEach(s=>{
  svg.append("rect").attr("x",0).attr("y",s[0]).attr("width",1850).attr("height",s[1]).attr("fill","#dcdcdc");
});
svg.append("line").attr("x1",PR).attr("x2",PR).attr("y1",MAIN.top).attr("y2",975).attr("stroke","#111").attr("stroke-width",2.5);
svg.append("line").attr("x1",PR).attr("x2",PR).attr("y1",1013).attr("y2",2010).attr("stroke","#111").attr("stroke-width",2.5);
</script></body></html>
